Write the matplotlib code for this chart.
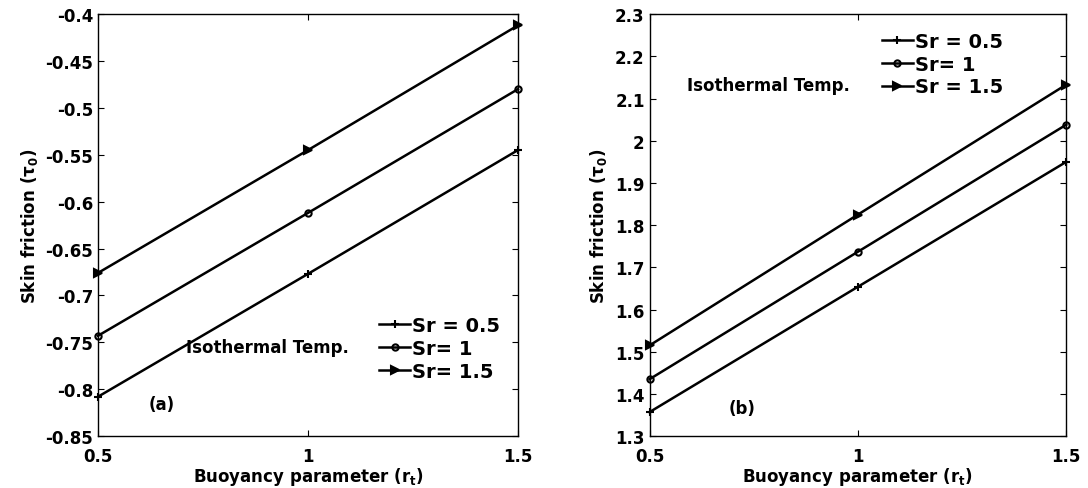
import numpy as np
import matplotlib
matplotlib.use("Agg")
import matplotlib.pyplot as plt

plt.rcParams['font.family'] = ['DejaVu Sans']
plt.rcParams['font.weight'] = 'bold'
plt.rcParams['mathtext.default'] = 'regular'

# buoyancy parameter values
rt = [0.5, 1.0, 1.5]

# panel (a) skin friction
a_sr05 = [-0.808, -0.677, -0.545]
a_sr1 = [-0.743, -0.612, -0.480]
a_sr15 = [-0.676, -0.545, -0.412]

# panel (b) skin friction
b_sr05 = [1.357, 1.654, 1.950]
b_sr1 = [1.435, 1.737, 2.038]
b_sr15 = [1.515, 1.825, 2.133]

a_labels = ['Sr = 0.5', 'Sr= 1', 'Sr= 1.5']
b_labels = ['Sr = 0.5', 'Sr= 1', 'Sr = 1.5']

fig = plt.figure(figsize=(10.88, 4.89), dpi=100)
ax1 = fig.add_axes([0.090, 0.106, 0.386, 0.863])
ax2 = fig.add_axes([0.597, 0.106, 0.383, 0.863])


def draw(ax, ys, labels):
    mk = ['+', 'o', '>']
    ms = [6, 4.5, 6]
    for y, m, s, lab in zip(ys, mk, ms, labels):
        ax.plot(rt, y, color='black', lw=1.8, marker=m, ms=s,
                mfc='none' if m == 'o' else 'black', mew=1.5, label=lab,
                clip_on=False)
    ax.set_xlim(0.5, 1.5)
    ax.set_xticks([0.5, 1, 1.5])
    ax.set_xticklabels(['0.5', '1', '1.5'])
    ax.tick_params(direction='in', top=True, right=True, labelsize=12, length=4)
    ax.tick_params(axis='x', pad=8)
    for sp in ax.spines.values():
        sp.set_linewidth(1.0)
    ax.set_xlabel(r'Buoyancy parameter (r$_t$)', fontsize=12, fontweight='bold', labelpad=0)
    ax.set_ylabel(r'Skin friction ($\tau_0$)', fontsize=12, fontweight='bold', labelpad=4)


draw(ax1, [a_sr05, a_sr1, a_sr15], a_labels)
ax1.set_ylim(-0.85, -0.4)
ax1.set_yticks(np.arange(-0.85, -0.399, 0.05))
ax1.set_yticklabels(['-0.85', '-0.8', '-0.75', '-0.7', '-0.65', '-0.6',
                     '-0.55', '-0.5', '-0.45', '-0.4'])
ax1.legend(loc='lower right', bbox_to_anchor=(1.0, 0.09), frameon=False,
           fontsize=14, handlelength=1.6, handletextpad=0.1, labelspacing=0.2)
ax1.text(0.21, 0.20, 'Isothermal Temp.', transform=ax1.transAxes, fontsize=12,
         fontweight='bold')
ax1.text(0.12, 0.065, '(a)', transform=ax1.transAxes, fontsize=12, fontweight='bold')

draw(ax2, [b_sr05, b_sr1, b_sr15], b_labels)
ax2.set_ylim(1.3, 2.3)
ax2.set_yticks(np.arange(1.3, 2.31, 0.1))
ax2.set_yticklabels(['1.3', '1.4', '1.5', '1.6', '1.7', '1.8', '1.9', '2', '2.1', '2.2', '2.3'])
ax2.legend(loc='upper right', bbox_to_anchor=(0.89, 1.0), frameon=False,
           fontsize=14, handlelength=1.6, handletextpad=0.1, labelspacing=0.2)
ax2.text(0.09, 0.82, 'Isothermal Temp.', transform=ax2.transAxes, fontsize=12,
         fontweight='bold')
ax2.text(0.19, 0.055, '(b)', transform=ax2.transAxes, fontsize=12, fontweight='bold')

fig.savefig('out.png', dpi=100)
